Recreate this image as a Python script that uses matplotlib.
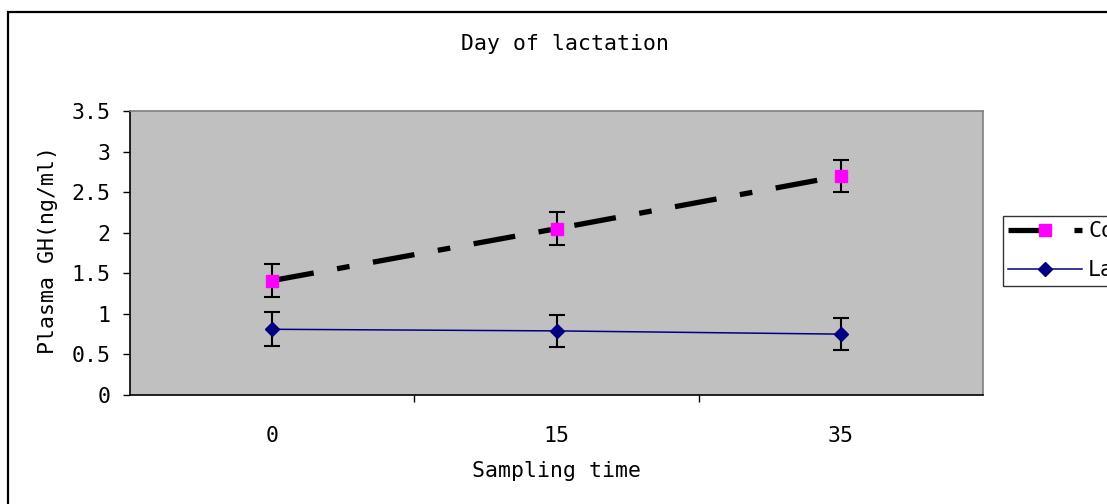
import matplotlib
matplotlib.use("Agg")
import matplotlib.pyplot as plt
from matplotlib.patches import Rectangle
from matplotlib.ticker import FixedLocator

# data
categories = ["0", "15", "35"]
c_mean = [1.41, 2.05, 2.70]
c_err = [0.20, 0.20, 0.20]
l_mean = [0.81, 0.79, 0.75]
l_err = [0.21, 0.20, 0.20]
y_ticks = [0, 0.5, 1, 1.5, 2, 2.5, 3, 3.5]
y_tick_labels = ["0", "0.5", "1", "1.5", "2", "2.5", "3", "3.5"]

FONT = "DejaVu Sans Mono"
FS = 15.5

fig = plt.figure(figsize=(11.07, 5.04), dpi=100)
fig.patch.set_facecolor("white")

# outer chart frame (runs off the right and bottom of the image)
fig.patches.append(Rectangle((8 / 1107, -0.05), 1.2, 1 - 12 / 504 + 0.05,
                             transform=fig.transFigure, fill=False,
                             edgecolor="black", linewidth=1.6))

ax = fig.add_axes([130 / 1107, 1 - 395 / 504, (983 - 130) / 1107, (395 - 111) / 504])
ax.set_facecolor("#c0c0c0")

x = list(range(len(categories)))

# error bars first, markers on top
ax.errorbar(x, c_mean, yerr=c_err, fmt="none", ecolor="black",
            elinewidth=1.5, capsize=5.5, capthick=1.5, zorder=2)
ax.errorbar(x, l_mean, yerr=l_err, fmt="none", ecolor="black",
            elinewidth=1.5, capsize=5.5, capthick=1.5, zorder=2)

ax.plot(x, c_mean, color="black", linewidth=3.8, dashes=(8, 4.5, 2.4, 4.5),
        dash_capstyle="butt", marker="s", markersize=8,
        markerfacecolor="#ff00ff", markeredgecolor="#ff00ff",
        label="Control", zorder=3)
ax.plot(x, l_mean, color="#000080", linewidth=1.1, marker="D", markersize=7,
        markerfacecolor="#000080", markeredgecolor="#000080",
        label="Lactation", zorder=3)

ax.set_xlim(-0.5, len(categories) - 0.5)
ax.set_ylim(0, 3.5)

ax.set_yticks(y_ticks)
ax.set_yticklabels(y_tick_labels, fontfamily=FONT, fontsize=FS)
ax.tick_params(axis="y", direction="out", length=5, width=1, pad=9)

ax.set_xticks(x)
ax.set_xticklabels(categories, fontfamily=FONT, fontsize=FS)
ax.tick_params(axis="x", which="major", length=0, pad=22)
ax.xaxis.set_minor_locator(FixedLocator([0.5, 1.5]))
ax.tick_params(axis="x", which="minor", direction="out", length=5, width=1)

for side in ["left", "bottom"]:
    ax.spines[side].set_color("black")
    ax.spines[side].set_linewidth(1.2)
for side in ["top", "right"]:
    ax.spines[side].set_color("#808080")
    ax.spines[side].set_linewidth(1.2)

fig.text(565 / 1107, 1 - 44 / 504, "Day of lactation", ha="center", va="center",
         fontfamily=FONT, fontsize=FS)
fig.text(556 / 1107, 1 - 471 / 504, "Sampling time", ha="center", va="center",
         fontfamily=FONT, fontsize=FS)
fig.text(48 / 1107, 1 - 250 / 504, "Plasma GH(ng/ml)", ha="center", va="center",
         rotation=90, fontfamily=FONT, fontsize=FS)

leg = fig.legend(loc="upper left", bbox_to_anchor=(1003 / 1107, 1 - 216 / 504),
                 prop={"family": FONT, "size": FS}, frameon=True, fancybox=False,
                 edgecolor="black", handlelength=3.4, borderpad=0.25,
                 labelspacing=0.88, handletextpad=0.3, borderaxespad=0)
leg.get_frame().set_linewidth(1.0)

fig.savefig("out.png", dpi=100)
